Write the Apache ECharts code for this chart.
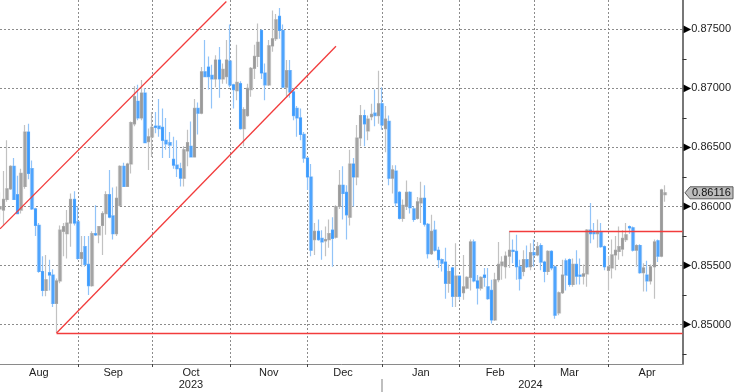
<!DOCTYPE html>
<html><head><meta charset="utf-8">
<script src="https://cdn.jsdelivr.net/npm/echarts@6/dist/echarts.min.js"></script>
<style>html,body{margin:0;padding:0;background:#fff}#c{width:734px;height:392px}</style>
</head><body><div id="c"></div>
<script>
// daily candles, each row: [open, close, low, high]
const aug = [
 [0.8598,0.8600,0.8588,0.8612],[0.8597,0.8606,0.8584,0.8630],[0.8606,0.8615,0.8604,0.8656],[0.8615,0.8634,0.8614,0.8635],
 [0.8634,0.8606,0.8606,0.8641],[0.8610,0.8594,0.8594,0.8626],[0.8597,0.8628,0.8594,0.8632],[0.8617,0.8663,0.8615,0.8669],
 [0.8663,0.8628,0.8623,0.8670],[0.8632,0.8598,0.8597,0.8639],[0.8598,0.8584,0.8575,0.8599],[0.8584,0.8545,0.8544,0.8586],
 [0.8545,0.8529,0.8524,0.8558],[0.8529,0.8538,0.8524,0.8559],[0.8544,0.8542,0.8529,0.8555],[0.8542,0.8518,0.8515,0.8547],
 [0.8518,0.8537,0.8493,0.8539],[0.8537,0.8580,0.8535,0.8584],[0.8579,0.8583,0.8558,0.8586],[0.8577,0.8586,0.8556,0.8597],
 [0.8586,0.8606,0.8566,0.8611],[0.8606,0.8586,0.8584,0.8613]
];
const sep = [
 [0.8587,0.8556,0.8555,0.8600],[0.8556,0.8561,0.8549,0.8575],[0.8566,0.8551,0.8549,0.8575],[0.8551,0.8533,0.8525,0.8575],
 [0.8533,0.8577,0.8532,0.8579],[0.8577,0.8576,0.8575,0.8601],[0.8576,0.8583,0.8569,0.8583],[0.8584,0.8594,0.8559,0.8596],
 [0.8594,0.8610,0.8576,0.8613],[0.8610,0.8591,0.8590,0.8631],[0.8592,0.8577,0.8572,0.8616],[0.8577,0.8607,0.8575,0.8617],
 [0.8601,0.8634,0.8600,0.8635],[0.8634,0.8617,0.8617,0.8637],[0.8617,0.8636,0.8617,0.8637],[0.8636,0.8671,0.8628,0.8672],
 [0.8670,0.8693,0.8668,0.8702],[0.8689,0.8675,0.8673,0.8703],[0.8675,0.8696,0.8673,0.8707],[0.8696,0.8654,0.8654,0.8700],
 [0.8655,0.8659,0.8631,0.8666]
];
const oct = [
 [0.8659,0.8667,0.8642,0.8680],[0.8668,0.8667,0.8662,0.8680],[0.8668,0.8666,0.8659,0.8691],[0.8667,0.8656,0.8641,0.8683],
 [0.8656,0.8653,0.8648,0.8675],[0.8654,0.8652,0.8641,0.8663],[0.8640,0.8635,0.8632,0.8659],[0.8635,0.8632,0.8625,0.8656],
 [0.8632,0.8624,0.8617,0.8637],[0.8624,0.8648,0.8617,0.8651],[0.8647,0.8654,0.8634,0.8665],[0.8651,0.8642,0.8642,0.8672],
 [0.8642,0.8683,0.8642,0.8691],[0.8683,0.8679,0.8661,0.8688],[0.8679,0.8714,0.8678,0.8718],[0.8714,0.8710,0.8710,0.8741],
 [0.8718,0.8710,0.8699,0.8727],[0.8711,0.8708,0.8683,0.8720],[0.8708,0.8724,0.8701,0.8728],[0.8724,0.8708,0.8692,0.8735],
 [0.8708,0.8716,0.8704,0.8721],[0.8710,0.8724,0.8704,0.8741]
];
const nov = [
 [0.8723,0.8703,0.8701,0.8754],[0.8703,0.8699,0.8683,0.8704],[0.8698,0.8705,0.8690,0.8737],[0.8704,0.8666,0.8665,0.8706],
 [0.8666,0.8682,0.8651,0.8684],[0.8677,0.8700,0.8676,0.8704],[0.8699,0.8717,0.8693,0.8718],[0.8717,0.8727,0.8708,0.8737],
 [0.8727,0.8739,0.8718,0.8755],[0.8749,0.8713,0.8708,0.8750],[0.8713,0.8703,0.8690,0.8721],[0.8703,0.8736,0.8702,0.8741],
 [0.8736,0.8742,0.8731,0.8766],[0.8742,0.8758,0.8740,0.8763],[0.8761,0.8749,0.8742,0.8768],[0.8749,0.8701,0.8701,0.8754],
 [0.8701,0.8715,0.8693,0.8724],[0.8715,0.8697,0.8692,0.8724],[0.8697,0.8677,0.8673,0.8700],[0.8683,0.8675,0.8659,0.8685],
 [0.8675,0.8661,0.8656,0.8683],[0.8661,0.8641,0.8637,0.8663]
];
const dec = [
 [0.8641,0.8625,0.8614,0.8642],[0.8625,0.8563,0.8558,0.8636],[0.8572,0.8579,0.8559,0.8586],[0.8579,0.8572,0.8571,0.8589],
 [0.8573,0.8570,0.8555,0.8580],[0.8571,0.8572,0.8558,0.8583],[0.8572,0.8577,0.8565,0.8589],[0.8580,0.8573,0.8549,0.8591],
 [0.8574,0.8600,0.8573,0.8601],[0.8600,0.8618,0.8598,0.8631],[0.8618,0.8611,0.8589,0.8634],[0.8612,0.8593,0.8572,0.8618],
 [0.8591,0.8636,0.8584,0.8648],[0.8636,0.8625,0.8600,0.8641],[0.8625,0.8658,0.8618,0.8669],[0.8658,0.8677,0.8651,0.8686],
 [0.8677,0.8670,0.8651,0.8682],[0.8664,0.8674,0.8656,0.8677],[0.8676,0.8678,0.8673,0.8687],[0.8679,0.8677,0.8668,0.8699],
 [0.8677,0.8687,0.8670,0.8715]
];
const jan = [
 [0.8687,0.8669,0.8665,0.8701],[0.8666,0.8674,0.8646,0.8685],[0.8672,0.8624,0.8618,0.8677],[0.8624,0.8631,0.8611,0.8635],
 [0.8630,0.8603,0.8600,0.8635],[0.8612,0.8590,0.8589,0.8613],[0.8590,0.8601,0.8587,0.8606],[0.8600,0.8612,0.8597,0.8622],
 [0.8612,0.8599,0.8594,0.8613],[0.8598,0.8589,0.8587,0.8600],[0.8590,0.8604,0.8589,0.8608],[0.8603,0.8607,0.8586,0.8621],
 [0.8607,0.8585,0.8583,0.8618],[0.8585,0.8560,0.8556,0.8586],[0.8560,0.8579,0.8559,0.8593],[0.8580,0.8563,0.8562,0.8588],
 [0.8563,0.8555,0.8548,0.8566],[0.8555,0.8552,0.8545,0.8556],[0.8553,0.8535,0.8522,0.8565],[0.8535,0.8545,0.8527,0.8551],
 [0.8548,0.8524,0.8515,0.8549],[0.8524,0.8541,0.8515,0.8569]
];
const feb = [
 [0.8541,0.8524,0.8521,0.8541],[0.8527,0.8532,0.8521,0.8559],[0.8531,0.8540,0.8530,0.8541],[0.8540,0.8570,0.8529,0.8572],
 [0.8570,0.8537,0.8536,0.8572],[0.8537,0.8531,0.8517,0.8542],[0.8531,0.8540,0.8529,0.8541],[0.8542,0.8540,0.8532,0.8548],
 [0.8532,0.8522,0.8521,0.8548],[0.8529,0.8504,0.8501,0.8538],[0.8504,0.8538,0.8503,0.8544],[0.8538,0.8551,0.8536,0.8570],
 [0.8550,0.8553,0.8538,0.8558],[0.8549,0.8558,0.8539,0.8562],[0.8558,0.8563,0.8548,0.8579],[0.8563,0.8562,0.8552,0.8572],
 [0.8562,0.8549,0.8538,0.8576],[0.8549,0.8539,0.8529,0.8555],[0.8545,0.8555,0.8541,0.8563],[0.8555,0.8549,0.8548,0.8567],
 [0.8549,0.8561,0.8546,0.8569]
];
const mar = [
 [0.8561,0.8559,0.8549,0.8572],[0.8559,0.8566,0.8558,0.8570],[0.8567,0.8553,0.8546,0.8569],[0.8553,0.8545,0.8536,0.8554],
 [0.8545,0.8562,0.8542,0.8563],[0.8562,0.8548,0.8546,0.8563],[0.8549,0.8508,0.8505,0.8550],[0.8510,0.8527,0.8508,0.8528],
 [0.8527,0.8542,0.8526,0.8555],[0.8554,0.8542,0.8529,0.8556],[0.8555,0.8534,0.8532,0.8556],[0.8534,0.8551,0.8532,0.8556],
 [0.8551,0.8541,0.8534,0.8563],[0.8542,0.8541,0.8534,0.8556],[0.8541,0.8543,0.8534,0.8551],[0.8543,0.8580,0.8532,0.8581],
 [0.8580,0.8577,0.8569,0.8603],[0.8578,0.8577,0.8572,0.8586],[0.8577,0.8579,0.8565,0.8589],[0.8578,0.8566,0.8565,0.8586],
 [0.8566,0.8549,0.8546,0.8567]
];
const apr = [
 [0.8546,0.8549,0.8529,0.8558],[0.8548,0.8559,0.8539,0.8572],[0.8559,0.8563,0.8546,0.8575],[0.8562,0.8566,0.8555,0.8583],
 [0.8564,0.8573,0.8558,0.8580],[0.8572,0.8576,0.8570,0.8586],[0.8583,0.8582,0.8577,0.8584],[0.8582,0.8563,0.8562,0.8583],
 [0.8563,0.8567,0.8549,0.8568],[0.8567,0.8544,0.8543,0.8568],[0.8544,0.8548,0.8528,0.8552],[0.8542,0.8537,0.8528,0.8554],
 [0.8537,0.8549,0.8534,0.8551],[0.8549,0.8570,0.8522,0.8572],[0.8571,0.8558,0.8553,0.8572],[0.8558,0.8614,0.8557,0.8615],
 [0.8610,0.86116,0.8604,0.8618]
];
const lastPrice = 0.86116;
const monthNames = ['Jan','Feb','Mar','Apr','May','Jun','Jul','Aug','Sep','Oct','Nov','Dec'];
const firstDay = '2023-08-02', lastDay = '2024-04-30';
const holidays = ['2024-01-01'];
// drawn trend lines: [start, end] as [date, price]
const channelUpper = [['2023-08-02',0.85811],['2023-10-31',0.87735]];
const channelLower = [['2023-08-24',0.8493],['2023-12-13',0.87356]];
const supportLine = [['2023-08-24',0.8493],['2024-04-30',0.8493]];
const resistLine = [['2024-02-21',0.8579],['2024-04-30',0.8579]];
const yMin = 0.84667, yMax = 0.87748;

// trading-day categories
const cats = [];
(function(){
  const p = s => { const a = s.split('-').map(Number); return Date.UTC(a[0], a[1]-1, a[2]); };
  for (let t = p(firstDay); t <= p(lastDay); t += 86400000) {
    const d = new Date(t), wd = d.getUTCDay(), s = d.toISOString().slice(0,10);
    if (wd !== 0 && wd !== 6 && holidays.indexOf(s) < 0) cats.push(s);
  }
})();
const N = cats.length;
const ohlc = [].concat(aug, sep, oct, nov, dec, jan, feb, mar, apr);
const bodies = ohlc.map(r => [r[0], r[1], Math.min(r[0], r[1]), Math.max(r[0], r[1])]);

const monthStarts = [0];
for (let i = 1; i < N; i++) if (cats[i].slice(0,7) !== cats[i-1].slice(0,7)) monthStarts.push(i);
const monthStartSet = new Set(monthStarts.slice(1));
const monthLabel = new Map();
monthStarts.forEach((s, j) => {
  const e = j + 1 < monthStarts.length ? monthStarts[j+1] : N;
  monthLabel.set(Math.floor((s + e) / 2), monthNames[+cats[s].slice(5,7) - 1]);
});
const yearStarts = [0];
for (let i = 1; i < N; i++) if (cats[i].slice(0,4) !== cats[i-1].slice(0,4)) yearStarts.push(i);
const yearLabel = new Map();
yearStarts.forEach((s, j) => {
  const e = j + 1 < yearStarts.length ? yearStarts[j+1] : N - 1;
  yearLabel.set(Math.floor((s + e) / 2), cats[s].slice(0,4));
});
const yearDivSet = new Set(yearStarts.slice(1));

const font = 'Liberation Sans';
const seg = a => [{coord: a[0]}, {coord: a[1]}];
const chart = echarts.init(document.getElementById('c'));
chart.setOption({
  animation: false,
  backgroundColor: '#fff',
  grid: {left: -1, top: 0, width: 686, height: 364},
  xAxis: [{
    type: 'category', data: cats, boundaryGap: false,
    axisLine: {show: true, lineStyle: {color: '#8a8a8a', width: 1}},
    axisTick: {show: true, interval: i => monthStartSet.has(i), length: 3, lineStyle: {color: '#444'}},
    axisLabel: {interval: i => monthLabel.has(i), formatter: (v, i) => monthLabel.get(i) || '',
      margin: 3, fontSize: 11, color: '#222', fontFamily: font},
    splitLine: {show: true, interval: i => monthStartSet.has(i), lineStyle: {color: '#8c8c8c', type: [2, 2]}}
  }, {
    type: 'category', data: cats, boundaryGap: false, position: 'bottom', offset: 15,
    axisLine: {show: false},
    axisTick: {show: true, interval: i => yearDivSet.has(i), length: 13, lineStyle: {color: '#aaa', width: 1.5}},
    axisLabel: {interval: i => yearLabel.has(i), formatter: (v, i) => yearLabel.get(i) || '',
      margin: 0, fontSize: 11, color: '#222', fontFamily: font},
    splitLine: {show: false}
  }],
  yAxis: {
    type: 'value', position: 'right', min: yMin, max: yMax, splitNumber: 5,
    axisLine: {show: true, lineStyle: {color: '#777', width: 2}},
    axisTick: {show: false},
    minorTick: {show: true, splitNumber: 2, length: 4, lineStyle: {color: '#333'}},
    axisLabel: {margin: 1,
      formatter: v => Math.abs(v * 200 - Math.round(v * 200)) < 1e-6 ? '{t|\u25B6}{v|' + v.toFixed(5) + '}' : '',
      rich: {t: {fontSize: 10, color: '#000', fontFamily: 'DejaVu Sans'}, v: {fontSize: 11, color: '#222', fontFamily: font}}},
    splitLine: {show: true, showMinLine: false, showMaxLine: false, lineStyle: {color: '#8c8c8c', type: [2, 2]}}
  },
  series: [{
    type: 'candlestick', data: ohlc, barWidth: 3, silent: true, xAxisIndex: 0,
    itemStyle: {color: '#cdcdcd', color0: '#a3cdf9', borderColor: '#c2c2c2', borderColor0: '#92c4f8', borderWidth: 1.2},
    markLine: {silent: true, symbol: ['none', 'none'], animation: false, label: {show: false},
      lineStyle: {color: '#f23c3c', width: 1.3, type: 'solid'},
      data: [seg(channelUpper), seg(channelLower), seg(supportLine), seg(resistLine)]}
  }, {
    type: 'candlestick', data: bodies, barWidth: 2, silent: true, xAxisIndex: 0,
    itemStyle: {color: '#9a9a9a', color0: '#3a9bff', borderColor: '#9a9a9a', borderColor0: '#3a9bff', borderWidth: 0.6}
  }]
});
const py = chart.convertToPixel({yAxisIndex: 0}, lastPrice);
chart.setOption({graphic: [
  {type: 'polygon', shape: {points: [[685, py], [690, py - 6], [733, py - 6], [733, py + 6], [690, py + 6]]},
   style: {fill: '#bdbdbd', stroke: '#5a5a5a', lineWidth: 1}, z: 100},
  {type: 'text', x: 692, y: py, style: {text: lastPrice.toFixed(5), fontSize: 11, fontFamily: font, fill: '#111', verticalAlign: 'middle'}, z: 101}
]});
</script></body></html>
